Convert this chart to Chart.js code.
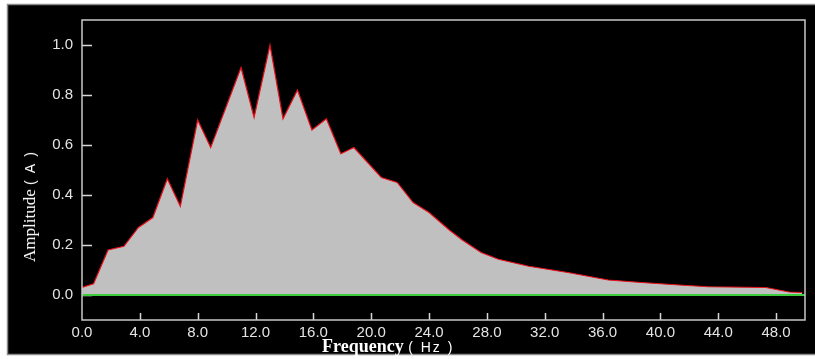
<!DOCTYPE html>
<html>
<head>
<meta charset="utf-8">
<script src="https://cdn.jsdelivr.net/npm/chart.js@4.4.1/dist/chart.umd.min.js"></script>
<style>
  html, body { margin: 0; padding: 0; background: #fff; }
  #wrap { position: relative; width: 815px; height: 359px; }
  #spectrum { position: absolute; left: 0; top: 0; }
  .axis-title { position: absolute; color: #fff; white-space: nowrap; }
  .serif { font-family: "Liberation Serif", "DejaVu Serif", serif; }
  .sans { font-family: "Liberation Sans", Arial, sans-serif; letter-spacing: 2px; }
  #ytitle { left: 30px; top: 206px; transform: translate(-50%, -50%) rotate(-90deg); font-size: 17px; }
  #ytitle .sans { font-size: 14px; }
  #xtitle { left: 322px; top: 336px; font-size: 18px; }
  #xtitle .sans { font-size: 14px; }
</style>
</head>
<body>
<div id="wrap">
  <canvas id="spectrum" width="815" height="359"></canvas>
  <div class="axis-title" id="ytitle"><span class="serif">Amplitude</span> <span class="sans">( A )</span></div>
  <div class="axis-title" id="xtitle"><span class="serif" style="font-weight:bold">Frequency</span> <span class="sans">( Hz )</span></div>
</div>
<script>
const freqs = [0, 0.8, 1.8, 2.9, 3.9, 4.9, 5.9, 6.8, 8.0, 8.9, 11.0, 11.9, 13.0, 13.9, 14.9, 15.9,
  16.9, 17.9, 18.8, 20.7, 21.8, 22.9, 24.0, 25.4, 26.3, 27.6, 28.8, 30.9, 33.6, 36.4, 38.7,
  41.3, 43.3, 47.3, 48.9, 49.8];
const amps = [0.03, 0.045, 0.18, 0.195, 0.27, 0.31, 0.465, 0.355, 0.70, 0.59, 0.91, 0.71, 1.0, 0.705,
  0.82, 0.66, 0.705, 0.565, 0.59, 0.47, 0.45, 0.37, 0.33, 0.26, 0.22, 0.17, 0.143, 0.115, 0.09,
  0.06, 0.05, 0.04, 0.033, 0.03, 0.012, 0.01];
const baseline = [0, 0];
const baselineFreqs = [0, 50];
const xTicks = [0, 4, 8, 12, 16, 20, 24, 28, 32, 36, 40, 44, 48];
const yTicks = [0, 0.2, 0.4, 0.6, 0.8, 1.0];

const spectrumPoints = freqs.map((f, i) => ({ x: f, y: amps[i] }));
const baselinePoints = baselineFreqs.map((f, i) => ({ x: f, y: baseline[i] }));

// fondo negro, marco y marcas de las escalas hacia dentro
const framePlugin = {
  id: "frame",
  beforeDraw(chart) {
    const ctx = chart.ctx;
    ctx.save();
    ctx.fillStyle = "#fff";
    ctx.fillRect(0, 0, chart.width, chart.height);
    ctx.fillStyle = "#000";
    ctx.fillRect(7, 4, chart.width - 7, 351);
    ctx.strokeStyle = "#8a8a8a";
    ctx.lineWidth = 1.5;
    ctx.beginPath();
    ctx.moveTo(chart.width, 4.5);
    ctx.lineTo(7.5, 4.5);
    ctx.lineTo(7.5, 354.5);
    ctx.lineTo(chart.width, 354.5);
    ctx.stroke();
    ctx.restore();
  },
  beforeDatasetsDraw(chart) {
    const { ctx, chartArea, scales } = chart;
    ctx.save();
    ctx.strokeStyle = "#d8d8d8";
    ctx.lineWidth = 1.5;
    ctx.beginPath();
    yTicks.forEach((v) => {
      const y = Math.round(scales.y.getPixelForValue(v)) + 0.5;
      ctx.moveTo(chartArea.left, y);
      ctx.lineTo(chartArea.left + 10, y);
    });
    xTicks.forEach((v) => {
      if (v === 0) return;
      const x = Math.round(scales.x.getPixelForValue(v)) + 0.5;
      ctx.moveTo(x, chartArea.bottom);
      ctx.lineTo(x, chartArea.bottom - 7);
    });
    ctx.stroke();
    ctx.restore();
  },
  afterDraw(chart) {
    const { ctx, chartArea } = chart;
    ctx.save();
    ctx.strokeStyle = "#c8c8c8";
    ctx.lineWidth = 1.5;
    ctx.strokeRect(chartArea.left, chartArea.top, chartArea.right - chartArea.left, chartArea.bottom - chartArea.top);
    ctx.restore();
  },
};

const tickFont = { family: "'Liberation Sans', Arial, sans-serif", size: 15 };

const spectrumChart = new Chart(document.querySelector("#spectrum").getContext("2d"), {
  type: "line",
  data: {
    datasets: [
      {
        label: "baseline",
        data: baselinePoints,
        borderColor: "#3ccc3c",
        borderWidth: 2,
        pointRadius: 0,
        fill: false,
      },
      {
        label: "Amplitude",
        data: spectrumPoints,
        borderColor: "#e8101a",
        borderWidth: 1.2,
        backgroundColor: "#c0c0c0",
        pointRadius: 0,
        tension: 0,
        fill: "origin",
      },
    ],
  },
  options: {
    responsive: false,
    animation: false,
    devicePixelRatio: 1,
    layout: { padding: { left: 0, top: 20, right: 10, bottom: 0 } },
    plugins: { legend: { display: false }, tooltip: { enabled: false } },
    scales: {
      x: {
        type: "linear",
        min: 0,
        max: 50,
        afterFit(scale) { scale.height = 39; },
        afterBuildTicks(scale) { scale.ticks = xTicks.map((v) => ({ value: v })); },
        grid: { display: false, drawTicks: false },
        border: { display: false },
        ticks: {
          color: "#e4e4e4",
          font: tickFont,
          padding: 4,
          maxRotation: 0,
          autoSkip: false,
          callback: (v) => v.toFixed(1),
        },
      },
      y: {
        type: "linear",
        min: -0.1,
        max: 1.1,
        afterFit(scale) { scale.width = 82; },
        afterBuildTicks(scale) { scale.ticks = yTicks.map((v) => ({ value: v })); },
        grid: { display: false, drawTicks: false },
        border: { display: false },
        ticks: {
          color: "#e4e4e4",
          font: tickFont,
          padding: 9,
          autoSkip: false,
          callback: (v) => v.toFixed(1),
        },
      },
    },
  },
  plugins: [framePlugin],
});
</script>
</body>
</html>
